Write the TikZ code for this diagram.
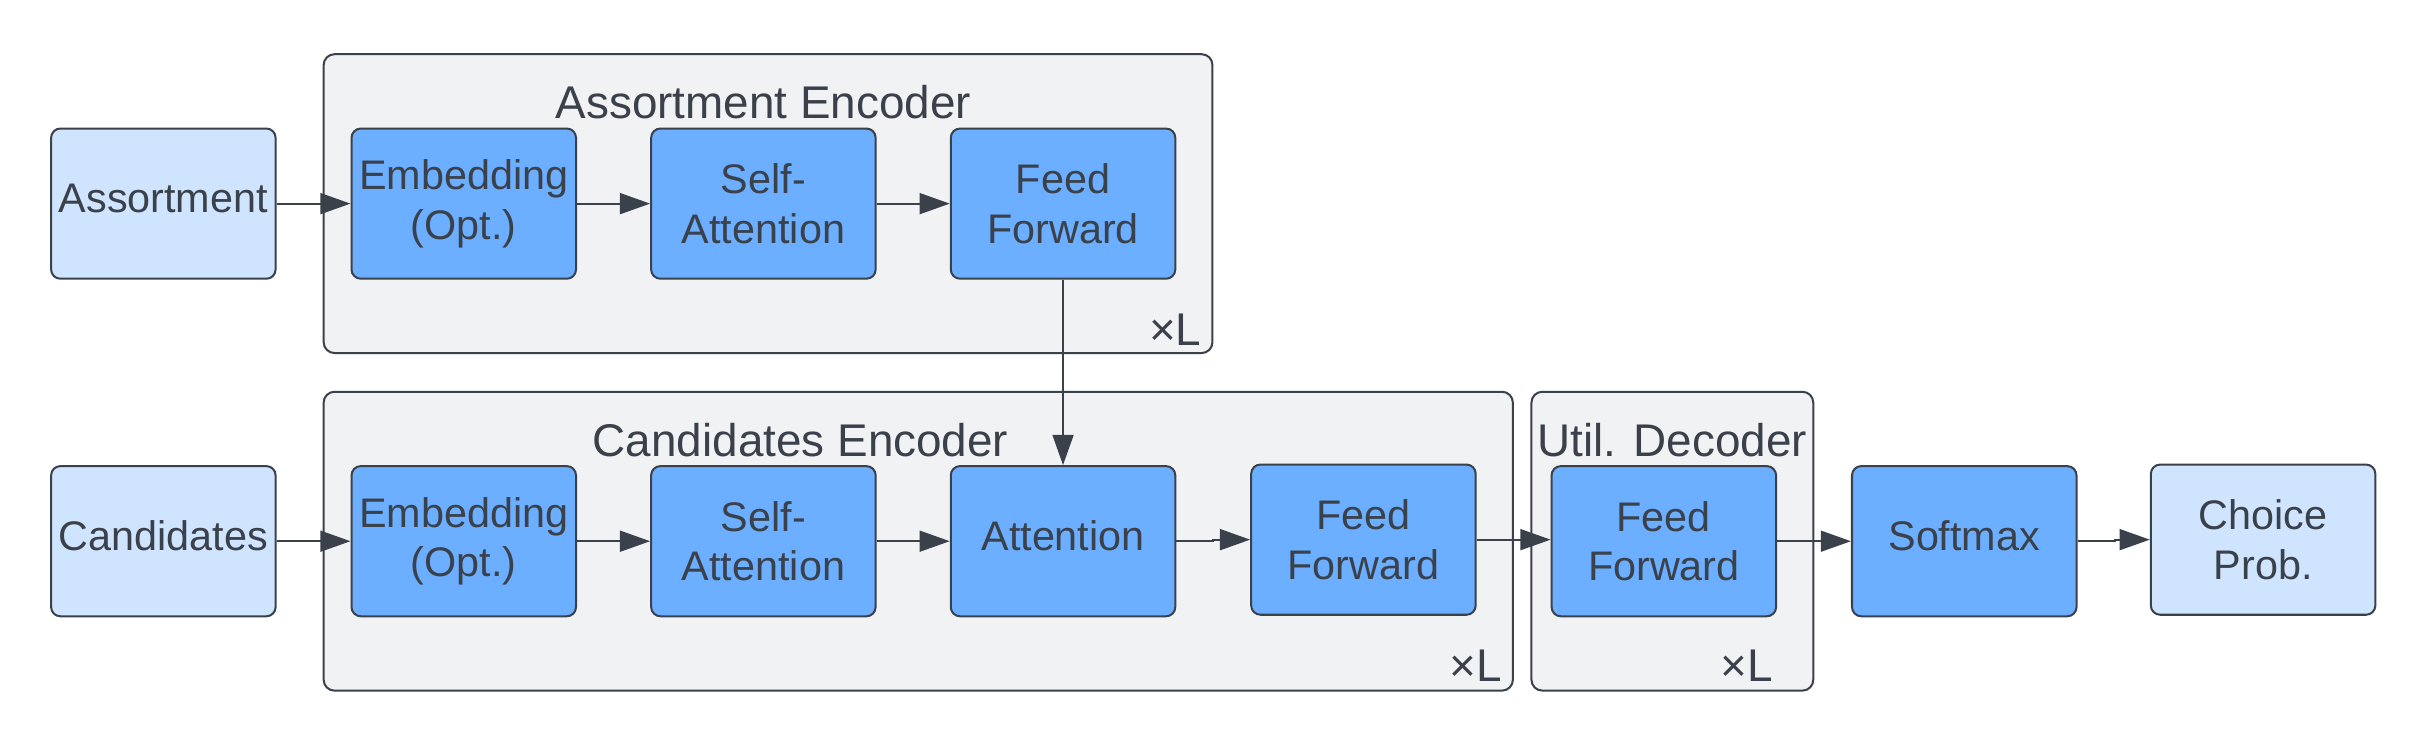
\documentclass[tikz,border=0pt]{standalone}
\usepackage{fontspec}
\setmainfont{Liberation Sans}
\usetikzlibrary{arrows.meta}
\definecolor{edgec}{HTML}{3A414A}
\definecolor{darkb}{HTML}{6CAEFF}
\definecolor{lightb}{HTML}{CFE4FF}
\definecolor{contc}{HTML}{F1F2F4}
\newcommand{\upline}[1]{\raisebox{3.5pt}[\height][\depth]{#1}}
\begin{document}
\begin{tikzpicture}[x=1pt,y=-1pt,
 box/.style={draw=edgec, line width=1.3pt, rounded corners=6pt, minimum width=145pt, minimum height=97pt, inner sep=0pt, align=center, text=edgec, font=\fontsize{26.7}{32}\selectfont},
 darkbox/.style={box, fill=darkb},
 lightbox/.style={box, fill=lightb},
 container/.style={draw=edgec, line width=1.3pt, rounded corners=7pt, fill=contc},
 title/.style={text=edgec, font=\fontsize{29.6}{35}\selectfont, inner sep=0pt},
 arr/.style={draw=edgec, line width=1.3pt, -{Triangle[length=19.5pt,width=13.5pt]}}
]
\useasboundingbox (0,0) rectangle (1568,480);
% containers
\draw[container] (209,35) rectangle (783,228);
\draw[container] (209,253) rectangle (977,446);
\draw[container] (989,253) rectangle (1171,446);
\node[title] (t1) at (493,66) {Assortment Encoder};
\node[title] (t2) at (517,284) {Candidates Encoder};
\node[title] (t3) at (1080,284) {Util. Decoder};
\node[title] (l1) at (759,213) {×L};
\node[title] (l2) at (953,430) {×L};
\node[title] (l3) at (1128,430) {×L};
% top row
\node[lightbox] (asrt) at (105.5,131.5) {\upline{Assortment}};
\node[darkbox] (emb1) at (299.5,131.5) {Embedding\\(Opt.)};
\node[darkbox] (sa1) at (493,131.5) {Self-\\Attention};
\node[darkbox] (ff1) at (686.5,131.5) {Feed\\Forward};
% bottom row
\node[lightbox] (cand) at (105.5,349.5) {\upline{Candidates}};
\node[darkbox] (emb2) at (299.5,349.5) {Embedding\\(Opt.)};
\node[darkbox] (sa2) at (493,349.5) {Self-\\Attention};
\node[darkbox] (att) at (686.5,349.5) {\upline{Attention}};
\node[darkbox] (ff2) at (880.5,348.5) {Feed\\Forward};
\node[darkbox] (ff3) at (1074.5,349.5) {Feed\\Forward};
\node[darkbox] (smax) at (1268.5,349.5) {\upline{Softmax}};
\node[lightbox] (prob) at (1461.5,348.5) {Choice\\Prob.};
% arrows
\draw[arr] (asrt) -- (emb1);
\draw[arr] (emb1) -- (sa1);
\draw[arr] (sa1) -- (ff1);
\draw[arr] (ff1.south) -- (att.north);
\draw[arr] (cand) -- (emb2);
\draw[arr] (emb2) -- (sa2);
\draw[arr] (sa2) -- (att);
\draw[arr] (att.east) -- ++(24,0) |- (ff2.west);
\draw[arr] (ff2.east) -- (ff2.east -| ff3.west);
\draw[arr] (ff3) -- (smax);
\draw[arr] (smax.east) -- ++(24,0) |- (prob.west);
\end{tikzpicture}
\end{document}
